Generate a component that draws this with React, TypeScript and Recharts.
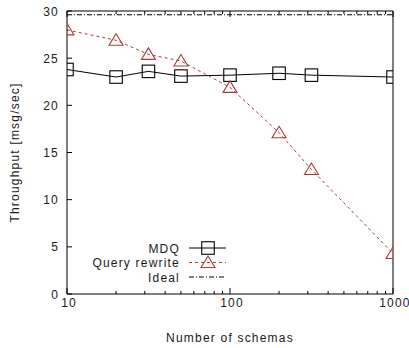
import { LineChart, Line, XAxis, YAxis, Legend } from 'recharts';

// schemas on x (log scale), throughput in msg/sec on y
const schemaCounts = [10, 20, 31.6, 50, 100, 200, 316, 1000];
const mdqThroughput = [23.8, 23.0, 23.6, 23.1, 23.2, 23.4, 23.2, 23.0];
const rewriteThroughput = [28.0, 26.9, 25.4, 24.7, 21.9, 17.1, 13.2, 4.3];
const idealCounts = [10, 1000];
const idealThroughput = [29.6, 29.6];

const xMajorTicks = [10, 100, 1000];
const xMinorTicks = [20, 30, 40, 50, 60, 70, 80, 90, 200, 300, 400, 500, 600, 700, 800, 900];
const yTicks = [0, 5, 10, 15, 20, 25, 30];

const RED = '#b03a3a';
const INK = '#1a1a1a';
const FONT = '"Liberation Sans", Arial, Helvetica, sans-serif';
const SPACING = 1.2;

const data = schemaCounts.map((x, i) => ({
  x,
  mdq: mdqThroughput[i],
  rewrite: rewriteThroughput[i],
}));
const idealData = idealCounts.map((x, i) => ({ x, ideal: idealThroughput[i] }));

const xTicks = [...xMajorTicks, ...xMinorTicks].sort((a, b) => a - b);

function Square({ cx, cy, stroke = '#000' }: any) {
  return <rect x={cx - 6.25} y={cy - 6.25} width={12.5} height={12.5} fill="none" stroke={stroke} strokeWidth={1.1} />;
}

function Triangle({ cx, cy, stroke = RED }: any) {
  const p = `${cx},${cy - 6.5} ${cx - 7},${cy + 5} ${cx + 7},${cy + 5}`;
  return <polygon points={p} fill="none" stroke={stroke} strokeWidth={1.1} />;
}

// gnuplot style ticks: pointing inward, labels only on majors
function BottomTick({ x, y, payload }: any) {
  const major = xMajorTicks.includes(payload.value);
  return (
    <g>
      <line x1={x} y1={y} x2={x} y2={y - (major ? 6 : 3)} stroke="#000" />
      {major && (
        <text x={x + 2} y={y + 13} textAnchor="middle" fontSize={12} fontFamily={FONT} letterSpacing={SPACING} fill={INK}>
          {payload.value}
        </text>
      )}
    </g>
  );
}

function TopTick({ x, y, payload }: any) {
  const major = xMajorTicks.includes(payload.value);
  return <line x1={x} y1={y} x2={x} y2={y + (major ? 6 : 3)} stroke="#000" />;
}

function LeftTick({ x, y, payload }: any) {
  return (
    <g>
      <line x1={x} y1={y} x2={x + 5} y2={y} stroke="#000" />
      <text x={x - 8} y={y + 4.5} textAnchor="end" fontSize={12} fontFamily={FONT} letterSpacing={SPACING} fill={INK}>
        {payload.value}
      </text>
    </g>
  );
}

function RightTick({ x, y }: any) {
  return <line x1={x} y1={y} x2={x - 5} y2={y} stroke="#000" />;
}

const legendItems = [
  { name: 'MDQ', color: '#000', dash: undefined, marker: 'square' },
  { name: 'Query rewrite', color: RED, dash: '3 3', marker: 'triangle' },
  { name: 'Ideal', color: '#000', dash: '5 2 1 2', marker: 'none' },
];

function KeyBox() {
  return (
    <svg width={409} height={348} style={{ position: 'absolute', left: 0, top: 0, pointerEvents: 'none' }}>
      {legendItems.map((item, i) => {
        const cy = 248 + i * 14.5;
        return (
          <g key={item.name}>
            <text x={180} y={cy + 4.5} textAnchor="end" fontSize={12} fontFamily={FONT} letterSpacing={SPACING} fill={INK}>
              {item.name}
            </text>
            <line x1={189} y1={cy} x2={226} y2={cy} stroke={item.color} strokeDasharray={item.dash} />
            {item.marker === 'square' && <Square cx={208} cy={cy} />}
            {item.marker === 'triangle' && <Triangle cx={208} cy={cy} />}
          </g>
        );
      })}
    </svg>
  );
}

export default function App() {
  return (
    <div style={{ position: 'absolute', left: 0, top: 0, width: 409, height: 348, background: '#fff' }}>
      <LineChart width={409} height={348} data={data} margin={{ top: 10, right: 15, bottom: 0, left: 0 }}>
        <XAxis
          xAxisId="b"
          dataKey="x"
          type="number"
          scale="log"
          domain={[10, 1000]}
          allowDataOverflow
          ticks={xTicks}
          interval={0}
          tickSize={0}
          tickMargin={0}
          tickLine={false}
          height={54}
          stroke="#000"
          tick={<BottomTick />}
          label={{
            content: ({ viewBox }: any) => (
              <text
                x={viewBox.x + viewBox.width / 2}
                y={viewBox.y + viewBox.height - 6}
                textAnchor="middle"
                fontSize={12}
                fontFamily={FONT}
                letterSpacing={SPACING}
                fill={INK}
              >
                Number of schemas
              </text>
            ),
          }}
        />
        <XAxis
          xAxisId="t"
          orientation="top"
          dataKey="x"
          type="number"
          scale="log"
          domain={[10, 1000]}
          allowDataOverflow
          ticks={xTicks}
          interval={0}
          tickSize={0}
          tickMargin={0}
          tickLine={false}
          height={1}
          stroke="#000"
          tick={<TopTick />}
        />
        <YAxis
          yAxisId="l"
          type="number"
          domain={[0, 30]}
          ticks={yTicks}
          interval={0}
          tickSize={0}
          tickMargin={0}
          tickLine={false}
          width={67}
          stroke="#000"
          tick={<LeftTick />}
          label={{
            content: ({ viewBox }: any) => (
              <text
                x={19}
                y={viewBox.y + viewBox.height / 2}
                transform={`rotate(-90, 19, ${viewBox.y + viewBox.height / 2})`}
                textAnchor="middle"
                fontSize={12}
                fontFamily={FONT}
                letterSpacing={SPACING}
                fill={INK}
              >
                Throughput [msg/sec]
              </text>
            ),
          }}
        />
        <YAxis
          yAxisId="r"
          orientation="right"
          type="number"
          domain={[0, 30]}
          ticks={yTicks}
          interval={0}
          tickSize={0}
          tickMargin={0}
          tickLine={false}
          width={1}
          stroke="#000"
          tick={<RightTick />}
        />
        <Line
          xAxisId="b"
          yAxisId="l"
          data={idealData}
          dataKey="ideal"
          stroke="#000"
          strokeWidth={1}
          strokeDasharray="5 2 1 2"
          dot={false}
          isAnimationActive={false}
        />
        <Line
          xAxisId="b"
          yAxisId="l"
          dataKey="mdq"
          stroke="#000"
          strokeWidth={1}
          dot={(p: any) => <Square key={`m${p.index}`} cx={p.cx} cy={p.cy} />}
          isAnimationActive={false}
        />
        <Line
          xAxisId="b"
          yAxisId="l"
          dataKey="rewrite"
          stroke={RED}
          strokeWidth={1}
          strokeDasharray="3 3"
          dot={(p: any) => <Triangle key={`r${p.index}`} cx={p.cx} cy={p.cy} />}
          isAnimationActive={false}
        />
        <Legend layout="vertical" align="center" verticalAlign="middle" wrapperStyle={{ left: 0, top: 0 }} content={() => <KeyBox />} />
      </LineChart>
    </div>
  );
}
